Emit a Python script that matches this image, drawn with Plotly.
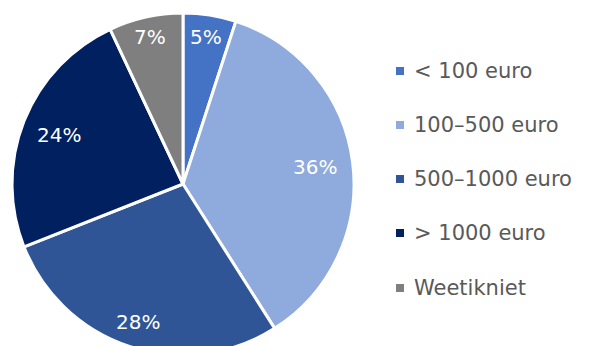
import math
import plotly.graph_objects as go

# Spending categories and their shares (%)
categories = ["< 100 euro", "100-500 euro", "500-1000 euro", "> 1000 euro", "Weet ik niet"]
legend_labels = ["< 100 euro", "100\u2013500 euro", "500\u20131000 euro", "> 1000 euro", "Weetikniet"]
shares = [5, 36, 28, 24, 7]
colors = ["#4472C4", "#8FAADC", "#2F5597", "#002060", "#7F7F7F"]

W, H = 604, 368          # canvas is a bit taller; the window crops the bottom of the pie
cx, cy, r = 183, 184, 171
FONT = "DejaVu Sans"

fig = go.Figure(go.Pie(
    labels=categories,
    values=shares,
    sort=False,
    direction="clockwise",
    rotation=0,
    marker=dict(colors=colors, line=dict(color="white", width=3)),
    textinfo="none",
    domain=dict(x=[(cx - r) / W, (cx + r) / W], y=[1 - (cy + r) / H, 1 - (cy - r) / H]),
    showlegend=False,
    hoverinfo="label+percent",
))

# Percentage labels placed along each slice's mid-angle (fraction of radius per slice)
label_radius = [0.87, 0.78, 0.85, 0.78, 0.88]
annotations = []
total = sum(shares)
start = 0.0
for val, frac in zip(shares, label_radius):
    mid = (start + val / 2) / total * 2 * math.pi   # clockwise from 12 o'clock
    start += val
    px = cx + frac * r * math.sin(mid)
    py = cy - frac * r * math.cos(mid)
    annotations.append(dict(x=px / W, y=1 - py / H, xref="paper", yref="paper",
                            text=f"{val}%", showarrow=False,
                            xanchor="center", yanchor="middle",
                            font=dict(size=20, color="white", family=FONT)))

# Hand-built legend: small square swatches with labels, evenly spaced
row_y = [71, 125, 179, 233, 288]
shapes = []
for lab, col, py in zip(legend_labels, colors, row_y):
    shapes.append(dict(type="rect", xref="paper", yref="paper",
                       x0=396 / W, x1=404 / W, y0=1 - (py + 4) / H, y1=1 - (py - 4) / H,
                       fillcolor=col, line=dict(width=0)))
    annotations.append(dict(x=412 / W, y=1 - py / H, xref="paper", yref="paper",
                            text=lab, showarrow=False, xanchor="left", yanchor="middle",
                            font=dict(size=21, color="#595959", family=FONT)))

fig.update_layout(
    width=W, height=H,
    margin=dict(l=0, r=0, t=0, b=0),
    paper_bgcolor="white",
    shapes=shapes,
    annotations=annotations,
)

fig.write_html("out.html", post_script="document.body.style.overflow='hidden';")
